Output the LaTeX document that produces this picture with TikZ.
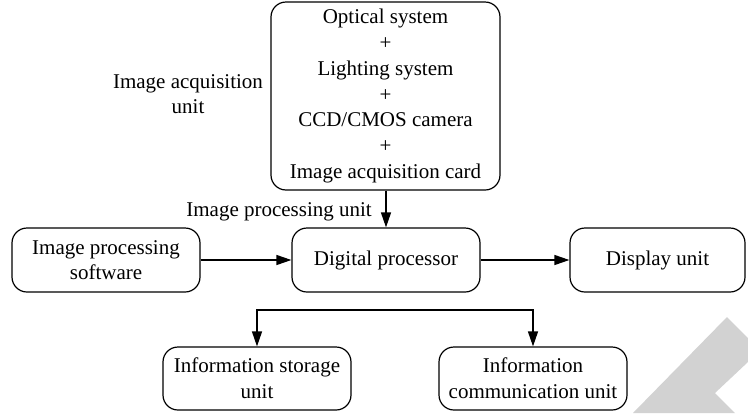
\documentclass[tikz,border=0pt]{standalone}
\usepackage{fontspec}
\setmainfont{Liberation Serif}
\usetikzlibrary{arrows.meta}
\begin{document}
\begin{tikzpicture}[x=1pt,y=-1pt,
  every node/.style={font=\fontsize{21}{25.7}\selectfont, align=center, inner sep=0pt},
  unitbox/.style={draw, line width=1.2pt, rounded corners=15pt},
  link/.style={line width=1.2pt},
  flow/.style={link, -{Triangle[length=15pt,width=10pt]}}]
\useasboundingbox (0,0) rectangle (748,413);

% light gray corner mark
\fill[gray!35] (633,413) -- (727,317) -- (748,338) -- (748,362) -- (715,393) -- (735,413) -- cycle;

% boxes
\node[unitbox, minimum width=229pt, minimum height=188pt] (acq) at (385.5,96)
  {Optical system\\+\\Lighting system\\+\\CCD/CMOS camera\\+\\Image acquisition card};
\node[unitbox, minimum width=188pt, minimum height=64pt] (sw) at (106,260)
  {Image processing\\software};
\node[unitbox, minimum width=188pt, minimum height=64pt] (dp) at (386,260)
  {Digital processor};
\node[unitbox, minimum width=175pt, minimum height=64pt] (disp) at (657.5,260)
  {Display unit};
\node[unitbox, minimum width=188pt, minimum height=63pt] (st) at (257,378.5)
  {Information storage\\unit};
\node[unitbox, minimum width=188pt, minimum height=63pt] (cm) at (533,378.5)
  {Information\\communication unit};

% free labels
\node (acqlbl) at (188,94) {Image acquisition\\unit};
\node[anchor=base east] (proclbl) at (372,216) {Image processing unit};

% connectors
\draw[flow] (acq.south -| dp.north) -- (dp.north);
\draw[flow] (sw.east) -- (dp.west);
\draw[flow] (dp.east) -- (disp.west);
\coordinate (split) at (385,310);
\draw[link] (split -| dp.south) -- (split);
\draw[flow] (split) -| (st.north);
\draw[flow] (split) -| (cm.north);
\end{tikzpicture}
\end{document}
